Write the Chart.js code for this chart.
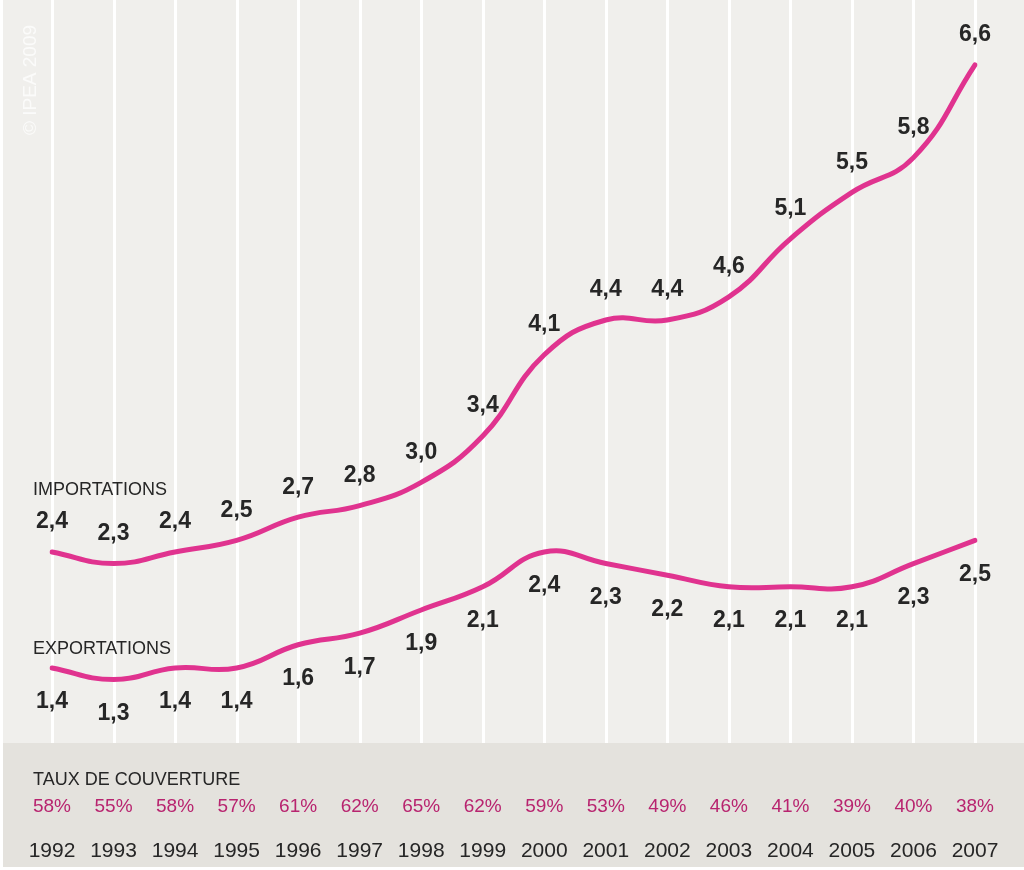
<!DOCTYPE html>
<html>
<head>
<meta charset="utf-8">
<script src="https://cdn.jsdelivr.net/npm/chart.js@4"></script>
<style>
  html, body { margin: 0; padding: 0; background: #ffffff; }
  canvas { display: block; }
</style>
</head>
<body>
<canvas id="c" width="1024" height="870"></canvas>
<script>
const years = ['1992','1993','1994','1995','1996','1997','1998','1999','2000','2001','2002','2003','2004','2005','2006','2007'];
const importations = [2.4, 2.3, 2.4, 2.5, 2.7, 2.8, 3.0, 3.4, 4.1, 4.4, 4.4, 4.6, 5.1, 5.5, 5.8, 6.6];
const exportations = [1.4, 1.3, 1.4, 1.4, 1.6, 1.7, 1.9, 2.1, 2.4, 2.3, 2.2, 2.1, 2.1, 2.1, 2.3, 2.5];
const tauxCouverture = [58, 55, 58, 57, 61, 62, 65, 62, 59, 53, 49, 46, 41, 39, 40, 38];
const seriesNames = ['IMPORTATIONS', 'EXPORTATIONS'];
const bandTitle = 'TAUX DE COUVERTURE';
const copyright = '\u00A9 IPEA 2009';

const MAGENTA = '#e0338f';
const PCT = '#b8246f';
const INK = '#262626';
const PLOT_BG = '#f0efec';
const BAND_BG = '#e4e2dd';

const fmt = v => v.toFixed(1).replace('.', ',');

const decor = {
  id: 'decor',
  beforeDraw(chart) {
    const { ctx, chartArea: a, width, height } = chart;
    const xs = chart.scales.x;
    ctx.save();
    ctx.fillStyle = '#ffffff';
    ctx.fillRect(0, 0, width, height);
    ctx.fillStyle = PLOT_BG;
    ctx.fillRect(3, 0, width - 3, a.bottom);
    ctx.fillStyle = BAND_BG;
    ctx.fillRect(3, a.bottom, width - 3, height - 3 - a.bottom);
    ctx.strokeStyle = '#ffffff';
    ctx.lineWidth = 3;
    years.forEach((y, i) => {
      const x = Math.round(xs.getPixelForValue(i)) + 0.5;
      ctx.beginPath();
      ctx.moveTo(x, 0);
      ctx.lineTo(x, a.bottom);
      ctx.stroke();
    });
    // copyright
    ctx.translate(31, 80);
    ctx.rotate(-Math.PI / 2);
    ctx.fillStyle = '#fbfbfa';
    ctx.font = '19px "Liberation Sans", Arial, sans-serif';
    ctx.textAlign = 'center';
    ctx.textBaseline = 'middle';
    ctx.fillText(copyright, 0, 0);
    ctx.restore();
  },
  afterDatasetsDraw(chart) {
    const { ctx } = chart;
    const xs = chart.scales.x;
    ctx.save();
    ctx.textAlign = 'center';
    ctx.textBaseline = 'middle';
    ctx.fillStyle = INK;
    ctx.font = 'bold 23px "Liberation Sans", Arial, sans-serif';
    const mImp = chart.getDatasetMeta(0).data;
    const mExp = chart.getDatasetMeta(1).data;
    importations.forEach((v, i) => {
      ctx.fillText(fmt(v), mImp[i].x, mImp[i].y - 30);
    });
    exportations.forEach((v, i) => {
      ctx.fillText(fmt(v), mExp[i].x, mExp[i].y + 34);
    });
    // series names
    ctx.textAlign = 'left';
    ctx.font = '18px "Liberation Sans", Arial, sans-serif';
    ctx.fillText(seriesNames[0], 33, 490);
    ctx.fillText(seriesNames[1], 33, 649);
    // band
    ctx.fillText(bandTitle, 33, 780);
    ctx.textAlign = 'center';
    ctx.font = '19px "Liberation Sans", Arial, sans-serif';
    ctx.fillStyle = PCT;
    tauxCouverture.forEach((t, i) => {
      ctx.fillText(t + '%', xs.getPixelForValue(i), 807);
    });
    ctx.fillStyle = INK;
    ctx.font = '21px "Liberation Sans", Arial, sans-serif';
    years.forEach((y, i) => {
      ctx.fillText(y, xs.getPixelForValue(i), 851);
    });
    ctx.restore();
  }
};

new Chart(document.getElementById('c'), {
  type: 'line',
  data: {
    labels: years,
    datasets: [
      { label: seriesNames[0], data: importations },
      { label: seriesNames[1], data: exportations }
    ]
  },
  options: {
    responsive: false,
    animation: false,
    devicePixelRatio: 1,
    layout: { padding: { left: 52, right: 49, top: 0, bottom: 127 } },
    elements: {
      line: { borderColor: MAGENTA, borderWidth: 5, tension: 0.45, capBezierPoints: false, borderCapStyle: 'round', borderJoinStyle: 'round', fill: false },
      point: { radius: 0, hoverRadius: 0 }
    },
    plugins: { legend: { display: false }, tooltip: { enabled: false } },
    scales: {
      x: { display: false },
      y: { display: false, min: 0.753, max: 7.159 }
    }
  },
  plugins: [decor]
});
</script>
</body>
</html>
